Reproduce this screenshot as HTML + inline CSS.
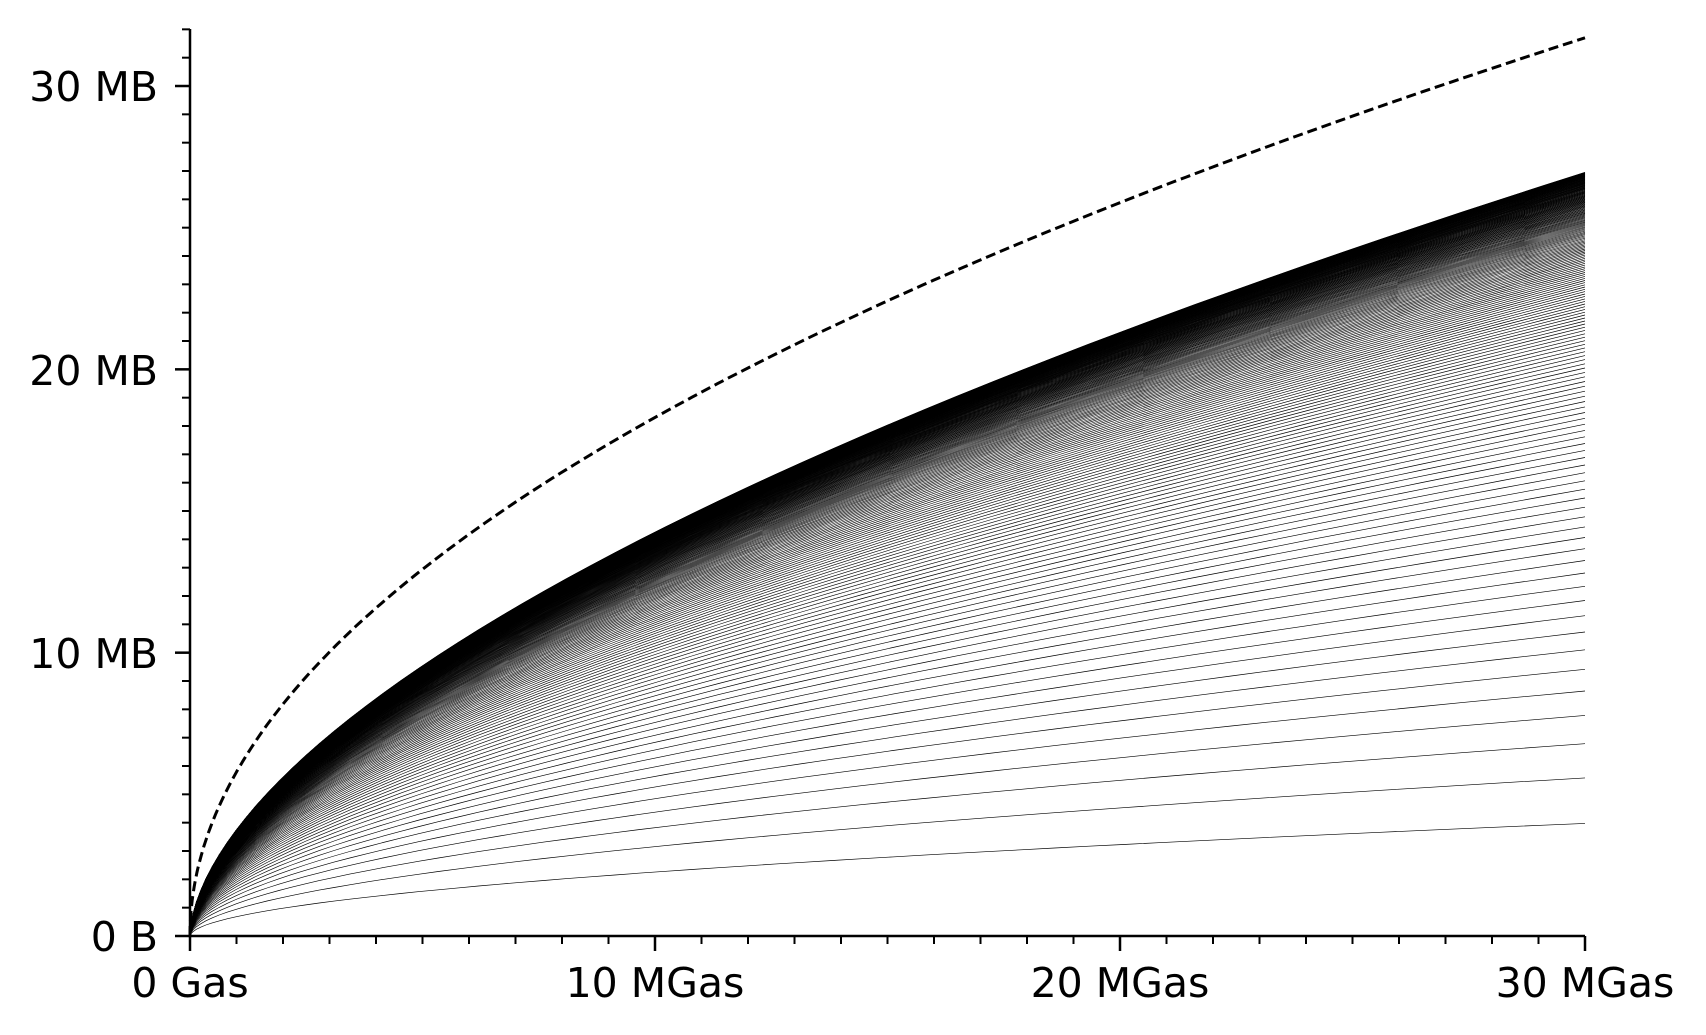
<!DOCTYPE html>
<html><head><meta charset="utf-8"><style>
html,body{margin:0;padding:0;background:#fff;}
svg{display:block;}
text{font-family:"DejaVu Sans","Liberation Sans",sans-serif;font-size:41px;fill:#000;}
</style></head><body>
<svg id="s" width="1706" height="1035" viewBox="0 0 1706 1035" xmlns="http://www.w3.org/2000/svg">
<g id="curves"></g>
<g id="axes" stroke="#000"></g>
<text x="158" y="951" text-anchor="end">0 B</text>
<text x="158" y="668" text-anchor="end">10 MB</text>
<text x="158" y="385" text-anchor="end">20 MB</text>
<text x="158" y="101" text-anchor="end">30 MB</text>
<text x="190" y="997" text-anchor="middle">0 Gas</text>
<text x="655" y="997" text-anchor="middle">10 MGas</text>
<text x="1120" y="997" text-anchor="middle">20 MGas</text>
<text x="1585" y="997" text-anchor="middle">30 MGas</text>
</svg>
<script>
var X0=190,X1=1585,Y0=936,py=28.333,px=(X1-X0)/30;
function sx(g){return X0+g*px;}function sy(v){return Y0-v*py;}
var ns="http://www.w3.org/2000/svg";
var ax=document.getElementById('axes'),cv=document.getElementById('curves');
function line(x1,y1,x2,y2,w,par){var l=document.createElementNS(ns,'line');l.setAttribute('x1',x1);l.setAttribute('y1',y1);l.setAttribute('x2',x2);l.setAttribute('y2',y2);l.setAttribute('stroke-width',w);l.setAttribute('stroke','#000');(par||ax).appendChild(l);}
function f(g){var gas=g*1e6;var w=256*(Math.sqrt(9+gas/128)-3);return w*32/1e6;}
var fEnd=f(30);
var N=210,EM=27.8;
for(var k=N;k>=1;k--){
  var E=EM*Math.tanh(4*Math.sqrt(k)/EM);
  var t=E/27;
  var d='';
  for(var i=0;i<=60;i++){
    var g=30*Math.pow(i/60,1.8);
    var base=f(g)/fEnd;
    var pw=Math.pow(g/30,0.58);
    var s=base*(1-t)+pw*t;
    d+=(i?'L':'M')+sx(g).toFixed(1)+' '+sy(E*s).toFixed(1);
  }
  var p=document.createElementNS(ns,'path');p.setAttribute('d',d);p.setAttribute('fill','none');p.setAttribute('stroke','#000');p.setAttribute('stroke-width','0.65');cv.appendChild(p);
}
var d='';
for(var i=0;i<=200;i++){var g=30*Math.pow(i/200,2);d+=(i?'L':'M')+sx(g).toFixed(1)+' '+sy(31.7*Math.sqrt(g/30)).toFixed(1);}
var p=document.createElementNS(ns,'path');p.setAttribute('d',d);p.setAttribute('fill','none');p.setAttribute('stroke','#000');p.setAttribute('stroke-width','3');p.setAttribute('stroke-dasharray','10 5');cv.appendChild(p);
line(X0,29,X0,Y0+1.2,2.5);line(X0-1.2,Y0,X1,Y0,2.5);
for(var m=0;m<=32;m++){var maj=m%10==0;line(X0,sy(m),X0-(maj?15:8),sy(m),maj?2.5:2);}
for(var m=0;m<=30;m++){var maj=m%10==0;line(sx(m),Y0,sx(m),Y0+(maj?15:8),maj?2.5:2);}
</script>
</body></html>
